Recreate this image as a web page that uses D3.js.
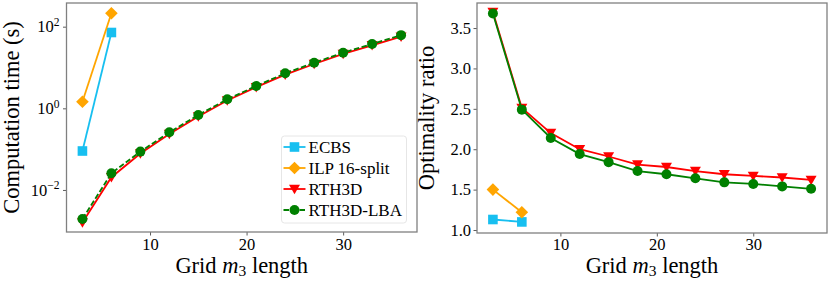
<!DOCTYPE html>
<html><head><meta charset="utf-8">
<script src="https://cdn.jsdelivr.net/npm/d3@7"></script>
</head><body style="margin:0;background:#fff"><svg id="c" width="830" height="281" style="display:block;font-family:'Liberation Serif',serif"></svg>
<script>
const gridX = [3,6,9,12,15,18,21,24,27,30,33,36];
const timeECBS = [0.09, 72];
const timeILP = [1.45, 213];
const timeRTH3D = [0.0016, 0.0205, 0.078, 0.235, 0.63, 1.55, 3.3, 6.7, 12.2, 21.5, 35, 57];
const timeLBA = [0.00195, 0.0256, 0.087, 0.258, 0.686, 1.66, 3.52, 7.2, 13.1, 23, 37.6, 62];
const ratioECBS = [1.13, 1.10];
const ratioILP = [1.50, 1.22];
const ratioRTH3D = [3.70, 2.51, 2.20, 2.00, 1.91, 1.81, 1.78, 1.73, 1.69, 1.67, 1.65, 1.62];
const ratioLBA = [3.68, 2.49, 2.14, 1.94, 1.84, 1.73, 1.69, 1.64, 1.59, 1.57, 1.54, 1.51];
const xTicks = [10,20,30];
const logTicks = [-2,0,2];
const ratioTicks = [1.0,1.5,2.0,2.5,3.0,3.5];
const seriesNames = ["ECBS","ILP 16-split","RTH3D","RTH3D-LBA"];
const colors = {"ECBS":"#17bff0","ILP 16-split":"#ffa500","RTH3D":"#ff0000","RTH3D-LBA":"#008000"};

const svg = d3.select("#c");
const FRAME = "#808080";

function txt(sel, size){
  return sel.append("text").attr("font-size",size).style("font-family","'Liberation Serif', serif").attr("fill","#000");
}

function marker(g, type, x, y, color){
  if(type==="ECBS") g.append("rect").attr("x",x-4.8).attr("y",y-4.8).attr("width",9.6).attr("height",9.6).attr("fill",color);
  else if(type==="ILP 16-split") g.append("path").attr("d",`M${x},${y-6.3}L${x+6.3},${y}L${x},${y+6.3}L${x-6.3},${y}Z`).attr("fill",color);
  else if(type==="RTH3D") g.append("path").attr("d",`M${x-5.5},${y-4.2}L${x+5.5},${y-4.2}L${x},${y+5.3}Z`).attr("fill",color);
  else g.append("circle").attr("cx",x).attr("cy",y).attr("r",5).attr("fill",color);
}

function panel(opt){
  const {left,right,top,bottom,y,series,yTickFmt,ylabel,ylabelX,dashLBA} = opt;
  const x = d3.scaleLinear().domain([1.35,37.65]).range([left,right]);
  const g = svg.append("g");
  const xa = g.append("g").attr("transform",`translate(0,${bottom})`)
    .call(d3.axisBottom(x).tickValues(xTicks).tickSize(3.5).tickPadding(3).tickFormat(""));
  xa.select(".domain").remove();
  xa.selectAll("line").attr("stroke","#333").attr("stroke-width",0.8);
  xa.selectAll(".tick").each(function(d){
    txt(d3.select(this),16.5).attr("y",250-bottom).attr("text-anchor","middle").text(d3.format("d")(d));
  });
  const ya = g.append("g").attr("transform",`translate(${left},0)`)
    .call(d3.axisLeft(y).tickValues(opt.yTicks).tickSize(3.5).tickPadding(4).tickFormat(""));
  ya.select(".domain").remove();
  ya.selectAll("line").attr("stroke","#333").attr("stroke-width",0.8);
  ya.selectAll(".tick").each(function(d){ yTickFmt(d3.select(this), d); });
  series.forEach(s=>{
    const pts = s.values.map((v,i)=>[x(gridX[i]), y(v)]);
    g.append("path").attr("d",d3.line()(pts)).attr("fill","none").attr("stroke",colors[s.name])
      .attr("stroke-width",1.8).attr("stroke-dasharray", (s.name==="RTH3D-LBA"&&dashLBA)?"5.5,2.5":null);
    const mg = g.append("g");
    pts.forEach(p=>marker(mg,s.name,p[0],p[1],colors[s.name]));
  });
  g.append("rect").attr("x",left).attr("y",top).attr("width",right-left).attr("height",bottom-top)
    .attr("fill","none").attr("stroke",FRAME).attr("stroke-width",1.3);
  const xl = txt(g,22.5).attr("x",(left+right)/2).attr("y",273).attr("text-anchor","middle");
  xl.append("tspan").text("Grid ");
  xl.append("tspan").attr("font-style","italic").text("m");
  xl.append("tspan").attr("font-size",15.5).attr("dy",3).text("3");
  xl.append("tspan").attr("dy",-3).text(" length");
  txt(g,22.5).attr("transform",`translate(${ylabelX},${(top+bottom)/2}) rotate(-90)`)
    .attr("text-anchor","middle").text(ylabel);
  return {g,x};
}

const yLog = d3.scaleLog().domain([Math.pow(10,-3.03),Math.pow(10,2.58)]).range([232,3]);
panel({left:66.5,right:417,top:3,bottom:232,y:yLog,yTicks:logTicks.map(e=>Math.pow(10,e)),
  yTickFmt:(sel,d)=>{
    const e = Math.round(Math.log10(d));
    const t = txt(sel,16.5).attr("x",-7).attr("dy","0.32em").attr("text-anchor","end");
    t.append("tspan").text("10");
    t.append("tspan").attr("font-size",11.5).attr("dy",-6.5).text(e<0?"\u2212"+(-e):String(e));
  },
  series:[{name:"ECBS",values:timeECBS},{name:"ILP 16-split",values:timeILP},{name:"RTH3D",values:timeRTH3D},{name:"RTH3D-LBA",values:timeLBA}],
  ylabel:"Computation time (s)", ylabelX:19, dashLBA:true});

const yLin = d3.scaleLinear().domain([0.963,3.81]).range([233,3]);
panel({left:477,right:827,top:3,bottom:233,y:yLin,yTicks:ratioTicks,
  yTickFmt:(sel,d)=>{
    txt(sel,16.5).attr("x",-6).attr("dy","0.32em").attr("text-anchor","end").text(d3.format(".1f")(d));
  },
  series:[{name:"ECBS",values:ratioECBS},{name:"ILP 16-split",values:ratioILP},{name:"RTH3D",values:ratioRTH3D},{name:"RTH3D-LBA",values:ratioLBA}],
  ylabel:"Optimality ratio", ylabelX:434, dashLBA:false});

const lg = svg.append("g").attr("transform","translate(281.5,136)");
lg.append("rect").attr("width",125).attr("height",87).attr("rx",3).attr("fill","#fff").attr("fill-opacity",0.8).attr("stroke","#e6e6e6").attr("stroke-width",1);
seriesNames.forEach((n,i)=>{
  const yy = 11 + i*21;
  lg.append("line").attr("x1",2).attr("x2",24).attr("y1",yy).attr("y2",yy).attr("stroke",colors[n]).attr("stroke-width",1.8)
    .attr("stroke-dasharray",n==="RTH3D-LBA"?"5.5,2.5":null);
  marker(lg,n,13,yy,colors[n]);
  txt(lg,17).attr("x",27).attr("y",yy).attr("dy","0.34em").text(n);
});
</script></body></html>
